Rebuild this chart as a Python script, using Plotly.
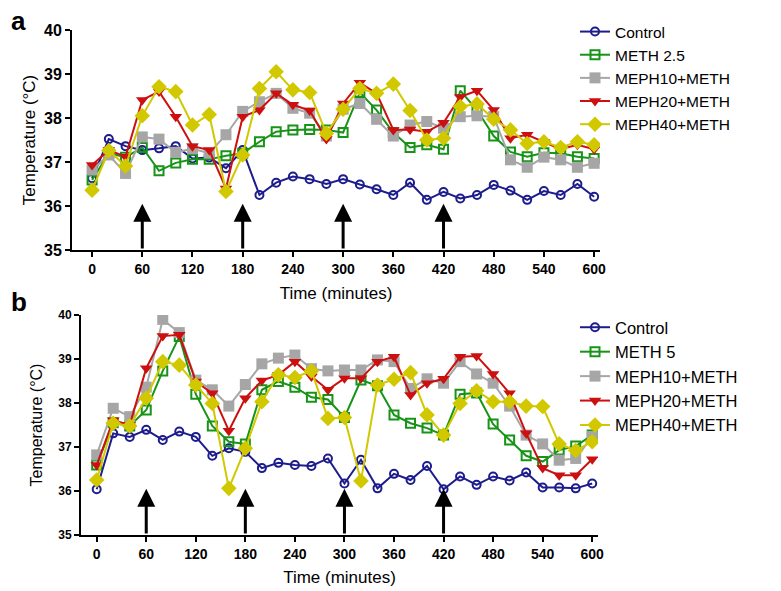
import plotly.graph_objects as go

time = list(range(0, 601, 20))
x_ticks = [0, 60, 120, 180, 240, 300, 360, 420, 480, 540, 600]
y_ticks = [35, 36, 37, 38, 39, 40]
arrow_times = [60, 180, 300, 420]

names_a = ["Control", "METH 2.5", "MEPH10+METH", "MEPH20+METH", "MEPH40+METH"]
names_b = ["Control", "METH 5", "MEPH10+METH", "MEPH20+METH", "MEPH40+METH"]

# Panel a
a_control = [36.63, 37.52, 37.36, 37.27, 37.31, 37.36, 37.08, 37.10, 36.86, 37.27, 36.25, 36.53, 36.67, 36.61,
             36.50, 36.61, 36.49, 36.38, 36.25, 36.53, 36.14, 36.32, 36.17, 36.25, 36.48, 36.35, 36.14, 36.34,
             36.25, 36.50, 36.21]
a_meth = [36.59, 37.20, 37.11, 37.33, 36.80, 36.98, 37.06, 37.06, 37.14, 37.20, 37.46, 37.69, 37.73, 37.74,
          37.73, 37.67, 38.58, 38.18, 37.67, 37.33, 37.39, 37.29, 38.62, 38.18, 37.59, 37.23, 37.12, 37.21,
          37.20, 37.12, 37.08]
a_meph10 = [36.82, 37.16, 36.74, 37.57, 37.52, 37.22, 37.30, 37.20, 37.62, 38.15, 38.37, 38.56, 38.22, 38.11,
            37.59, 38.20, 38.33, 37.97, 37.59, 37.84, 37.92, 37.77, 38.03, 38.05, 38.03, 37.05, 36.88, 37.11,
            37.05, 36.88, 36.97]
a_meph20 = [36.93, 37.27, 37.12, 38.41, 38.60, 38.03, 37.36, 37.27, 36.40, 38.03, 38.18, 38.56, 38.30, 38.17,
            37.52, 38.33, 38.80, 38.56, 37.73, 37.74, 37.69, 37.89, 38.48, 38.62, 38.18, 37.54, 37.62, 37.46,
            37.29, 37.39, 37.29]
a_meph40 = [36.36, 37.26, 36.91, 38.05, 38.71, 38.60, 37.84, 38.08, 36.33, 37.16, 38.67, 39.05, 38.64, 38.58,
            37.65, 38.20, 38.67, 38.56, 38.77, 38.17, 37.50, 37.54, 38.26, 38.32, 37.97, 37.73, 37.42, 37.46,
            37.33, 37.46, 37.39]

# Panel b
b_control = [36.04, 37.31, 37.23, 37.39, 37.16, 37.35, 37.23, 36.80, 36.97, 36.89, 36.52, 36.64, 36.59, 36.57,
             36.74, 36.17, 36.71, 36.06, 36.39, 36.25, 36.57, 36.04, 36.33, 36.14, 36.33, 36.24, 36.42, 36.08,
             36.08, 36.06, 36.17]
b_meth = [36.59, 37.55, 37.48, 37.84, 38.73, 39.51, 38.20, 37.48, 37.12, 37.07, 38.30, 38.49, 38.36, 38.13,
          38.08, 37.67, 38.52, 38.39, 37.73, 37.54, 37.43, 37.27, 38.20, 38.23, 37.52, 37.16, 36.80, 36.67,
          36.93, 37.02, 37.27]
b_meph10 = [36.82, 37.88, 37.69, 38.36, 39.90, 39.60, 38.52, 38.30, 37.93, 38.42, 38.89, 39.02, 39.09, 38.78,
            38.73, 38.75, 38.75, 38.98, 38.94, 38.33, 38.55, 38.45, 38.94, 38.66, 38.45, 37.93, 37.27, 37.07,
            36.70, 36.74, 37.24]
b_meph20 = [36.59, 37.61, 37.50, 38.79, 39.52, 39.55, 38.49, 38.22, 37.37, 38.11, 38.51, 38.64, 38.94, 38.60,
            38.30, 38.56, 38.56, 38.94, 39.05, 38.18, 38.45, 38.55, 39.05, 39.07, 38.66, 38.22, 37.31, 36.52,
            36.36, 36.36, 36.72]
b_meph40 = [36.25, 37.54, 37.48, 38.11, 38.94, 38.86, 38.41, 37.99, 36.06, 36.97, 38.03, 38.64, 38.58, 38.73,
            37.65, 37.67, 36.23, 38.41, 38.54, 38.69, 37.73, 37.27, 37.99, 38.28, 38.03, 38.03, 37.93, 37.92,
            37.07, 36.92, 37.12]

colors = ["#1c1c8c", "#179317", "#a6a6a6", "#cc1010", "#d2c800"]
symbols = ["circle-open", "square-open", "square", "triangle-down", "diamond"]
msizes = [8, 9, 11, 11, 12]
mline = [2, 2, 0, 0, 0]

FONT = "Liberation Sans, Arial, sans-serif"
W, H = 781, 591


def fx(px):
    return px / W


def fy(py):
    return 1 - py / H


fig = go.Figure()
series_a = [a_control, a_meth, a_meph10, a_meph20, a_meph40]
series_b = [b_control, b_meth, b_meph10, b_meph20, b_meph40]

for i, (nm, ys) in enumerate(zip(names_a, series_a)):
    fig.add_trace(go.Scatter(
        x=time, y=ys, name=nm, mode="lines+markers", xaxis="x", yaxis="y", legend="legend",
        line=dict(color=colors[i], width=2),
        marker=dict(symbol=symbols[i], size=msizes[i], color=colors[i],
                    line=dict(color=colors[i], width=mline[i])),
    ))
for i, (nm, ys) in enumerate(zip(names_b, series_b)):
    fig.add_trace(go.Scatter(
        x=time, y=ys, name=nm, mode="lines+markers", xaxis="x2", yaxis="y2", legend="legend2",
        line=dict(color=colors[i], width=2),
        marker=dict(symbol=symbols[i], size=msizes[i], color=colors[i],
                    line=dict(color=colors[i], width=mline[i])),
    ))

annotations = []
for t in arrow_times:
    annotations.append(dict(x=t, y=36.05, ax=t, ay=35.0, xref="x", yref="y", axref="x", ayref="y",
                            showarrow=True, arrowhead=2, arrowsize=1.2, arrowwidth=3, arrowcolor="black", text=""))
    annotations.append(dict(x=t, y=36.05, ax=t, ay=35.0, xref="x2", yref="y2", axref="x2", ayref="y2",
                            showarrow=True, arrowhead=2, arrowsize=1.2, arrowwidth=3, arrowcolor="black", text=""))
annotations.append(dict(x=fx(9), y=fy(21), xref="paper", yref="paper", text="<b>a</b>", showarrow=False,
                        font=dict(size=26, family=FONT, color="black"), xanchor="left", yanchor="middle"))
annotations.append(dict(x=fx(9), y=fy(302), xref="paper", yref="paper", text="<b>b</b>", showarrow=False,
                        font=dict(size=26, family=FONT, color="black"), xanchor="left", yanchor="middle"))

axis_common = dict(showline=True, linecolor="black", linewidth=2, ticks="outside", tickcolor="black",
                   ticklen=5, tickwidth=2, showgrid=False, zeroline=False, automargin=False)

fig.update_layout(
    width=W, height=H, margin=dict(l=0, r=0, t=0, b=0, autoexpand=False),
    paper_bgcolor="white", plot_bgcolor="white",
    font=dict(family=FONT, color="black"),
    xaxis=dict(domain=[fx(72), fx(600)], range=[-24, 607], tickvals=x_ticks, anchor="y",
               title=dict(text="Time (minutes)", font=dict(size=17), standoff=11),
               tickfont=dict(size=14, weight="bold"), **axis_common),
    yaxis=dict(domain=[fy(250), fy(30)], range=[35, 40], tickvals=y_ticks, anchor="x",
               title=dict(text="Temperature (°C)", font=dict(size=17), standoff=4),
               tickfont=dict(size=16, weight="bold"), **axis_common),
    xaxis2=dict(domain=[fx(81), fx(598)], range=[-19, 607], tickvals=x_ticks, anchor="y2",
                title=dict(text="Time (minutes)", font=dict(size=17), standoff=10),
                tickfont=dict(size=14, weight="bold"), **axis_common),
    yaxis2=dict(domain=[fy(535), fy(315)], range=[35, 40], tickvals=y_ticks, anchor="x2",
                title=dict(text="Temperature (°C)", font=dict(size=16), standoff=12),
                tickfont=dict(size=12, weight="bold"), **axis_common),
    legend=dict(x=fx(575), y=fy(15), xanchor="left", yanchor="top", font=dict(size=15.5),
                tracegroupgap=0, itemwidth=30, bgcolor="rgba(0,0,0,0)"),
    legend2=dict(x=fx(575), y=fy(310), xanchor="left", yanchor="top", font=dict(size=16.5),
                 tracegroupgap=0, itemwidth=30, bgcolor="rgba(0,0,0,0)"),
    annotations=annotations,
    showlegend=True,
)

fig.write_html("out.html", config={"displayModeBar": False},
               post_script="document.body.style.margin='0';")
